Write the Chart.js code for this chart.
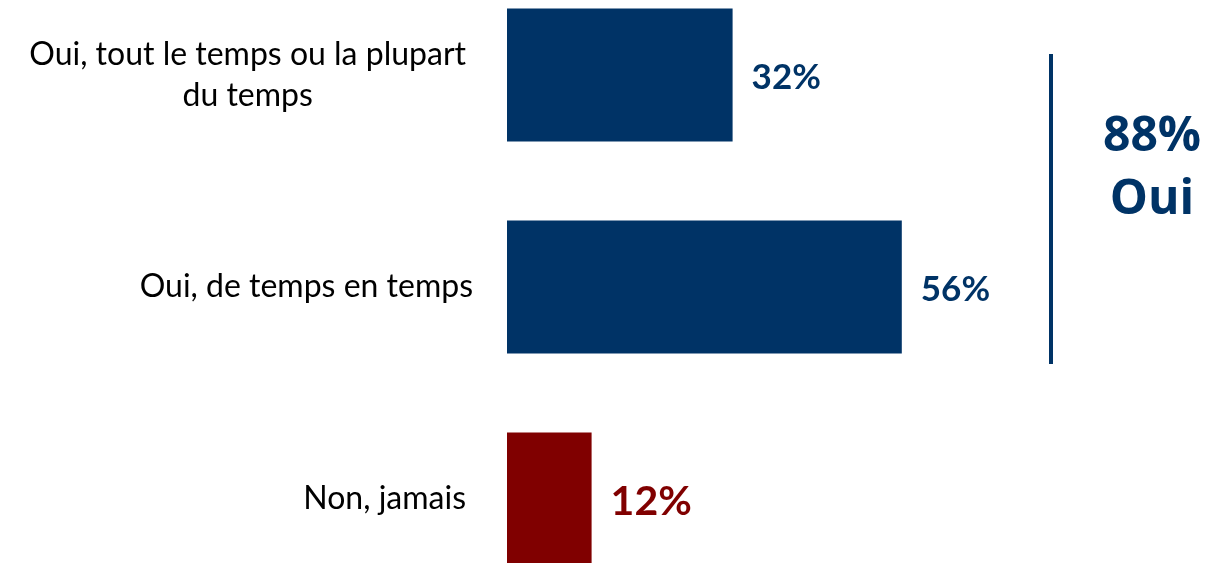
<!DOCTYPE html>
<html>
<head>
<meta charset="utf-8">
<script src="https://cdn.jsdelivr.net/npm/chart.js@4/dist/chart.umd.min.js"></script>
<style>
html,body{margin:0;padding:0;background:#fff;overflow:hidden;width:1219px;height:563px;}
#wrap{position:absolute;left:0;top:-31px;width:1219px;height:636px;}
</style>
</head>
<body>
<div id="wrap"><canvas id="c"></canvas></div>
<script>
const categories = [["Oui, tout le temps ou la plupart", "du temps"], ["Oui, de temps en temps"], ["Non, jamais"]];
const values = [32, 56, 12];
const valueLabels = ["32%", "56%", "12%"];
const barColors = ["#003366", "#003366", "#800000"];
const summaryLines = ["88%", "Oui"];

const NAVY = "#003366";
const LABEL_SIZES = [35, 35, 41];
const RIGHT_EDGES = [466, 473, 466];

const customDraw = {
  id: "customDraw",
  afterDatasetsDraw(chart) {
    const ctx = chart.ctx;
    const meta = chart.getDatasetMeta(0);
    const y = chart.scales.y;
    ctx.save();
    // category labels
    ctx.font = "32px Lato, 'Open Sans', sans-serif";
    ctx.fillStyle = "#000";
    ctx.textBaseline = "middle";
    categories.forEach((lines, i) => {
      const cy = y.getPixelForValue(i);
      const widths = lines.map(l => ctx.measureText(l).width);
      const maxW = Math.max(...widths);
      const center = RIGHT_EDGES[i] - maxW / 2;
      const lh = 41;
      const startY = cy - (lines.length - 1) * lh / 2;
      ctx.textAlign = "center";
      lines.forEach((l, k) => ctx.fillText(l, center, startY + k * lh));
    });
    // value labels
    meta.data.forEach((bar, i) => {
      ctx.font = "bold " + LABEL_SIZES[i] + "px Lato, 'Open Sans', sans-serif";
      ctx.fillStyle = barColors[i];
      ctx.textAlign = "left";
      ctx.textBaseline = "middle";
      ctx.fillText(valueLabels[i], bar.x + 19, bar.y + 3);
    });
    // bracket line
    const b0 = meta.data[0], b1 = meta.data[1];
    const top = b0.y - 21;
    const bottom = b1.y + 77;
    ctx.strokeStyle = NAVY;
    ctx.lineWidth = 4;
    ctx.beginPath();
    ctx.moveTo(1051, top);
    ctx.lineTo(1051, bottom);
    ctx.stroke();
    // summary text
    ctx.font = "bold 48px 'Open Sans', sans-serif";
    ctx.fillStyle = NAVY;
    ctx.textAlign = "center";
    ctx.textBaseline = "middle";
    const midY = (b0.y + b1.y) / 2 - 12;
    ctx.fillText(summaryLines[0], 1152, midY - 32);
    ctx.fillText(summaryLines[1], 1152, midY + 31);
    ctx.restore();
  }
};

new Chart(document.getElementById("c"), {
  type: "bar",
  data: {
    labels: categories,
    datasets: [{
      data: values,
      backgroundColor: barColors,
      borderWidth: 0,
      categoryPercentage: 1,
      barPercentage: 0.627
    }]
  },
  options: {
    indexAxis: "y",
    responsive: true,
    maintainAspectRatio: false,
    animation: false,
    layout: { padding: { left: 0, right: 7, top: 0, bottom: 0 } },
    plugins: { legend: { display: false }, tooltip: { enabled: false } },
    scales: {
      x: { min: 0, max: 100, display: false },
      y: {
        grid: { display: false },
        border: { display: false },
        ticks: { display: false },
        afterFit(scale) { scale.width = 507; }
      }
    }
  },
  plugins: [customDraw]
});
</script>
</body>
</html>
